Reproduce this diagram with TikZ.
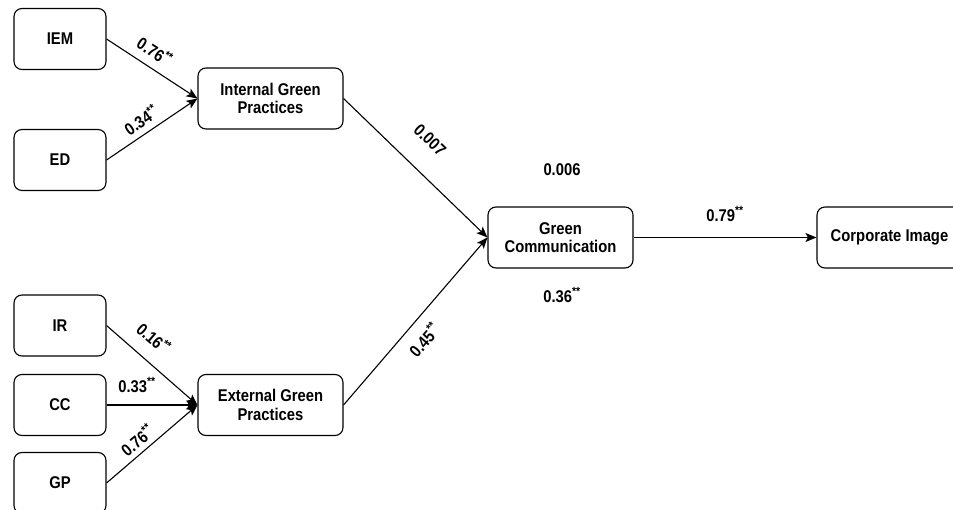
\documentclass[tikz,border=0pt]{standalone}
\usepackage{fontspec}
\setmainfont{Liberation Sans}[FakeStretch=0.87]
\usetikzlibrary{arrows.meta}
\begin{document}
\begin{tikzpicture}[x=1pt,y=-1pt,
  every node/.style={font=\fontsize{17}{18.5}\selectfont\bfseries},
  smallbox/.style={draw,line width=1.1pt,rounded corners=8pt,minimum width=92pt,minimum height=61pt,inner sep=0pt},
  bigbox/.style={draw,line width=1.1pt,rounded corners=8pt,minimum width=145pt,minimum height=61pt,inner sep=0pt,align=center},
  conn/.style={line width=1.1pt,-{Stealth[length=11pt,width=9pt,inset=2.5pt]}},
  lab/.style={inner sep=1pt}]
\useasboundingbox (0,0) rectangle (953,510);
\clip (0,0) rectangle (953,510);
\node[smallbox] (iem) at (60,39) {IEM};
\node[smallbox] (ed) at (60,160) {ED};
\node[bigbox] (igp) at (270.5,98.5) {Internal Green\\Practices};
\node[smallbox] (ir) at (60,325.5) {IR};
\node[smallbox] (cc) at (60,405) {CC};
\node[smallbox] (gp) at (60,483) {GP};
\node[bigbox] (egp) at (270.5,405) {External Green\\Practices};
\node[bigbox] (gc) at (560.5,237.5) {Green\\Communication};
\node[bigbox] (ci) at (889.5,237.5) {Corporate Image};
\draw[conn] (iem.east) -- (igp.west);
\draw[conn] (ed.east) -- (igp.west);
\draw[conn] (igp.east) -- (gc.west);
\draw[conn] (egp.east) -- (gc.west);
\draw[conn] (gc.east) -- (ci.west);
\draw[conn] (ir.east) -- (egp.west);
\draw[conn] (cc.east) -- (egp.west);
\draw[conn] (gp.east) -- (egp.west);
\node[lab,rotate=-33] (l1) at (155,51) {0.76\textsuperscript{**}};
\node[lab,rotate=34] (l2) at (141,120) {0.34\textsuperscript{**}};
\node[lab,rotate=-44] (l3) at (430,140) {0.007};
\node[lab] (l4) at (562,170) {0.006};
\node[lab] (l5) at (562,295) {0.36\textsuperscript{**}};
\node[lab,rotate=49] (l6) at (424,340) {0.45\textsuperscript{**}};
\node[lab] (l7) at (725,214) {0.79\textsuperscript{**}};
\node[lab,rotate=-41] (l8) at (154,338) {0.16\textsuperscript{**}};
\node[lab] (l9) at (137,385) {0.33\textsuperscript{**}};
\node[lab,rotate=40] (l10) at (137,440) {0.76\textsuperscript{**}};
\end{tikzpicture}
\end{document}
